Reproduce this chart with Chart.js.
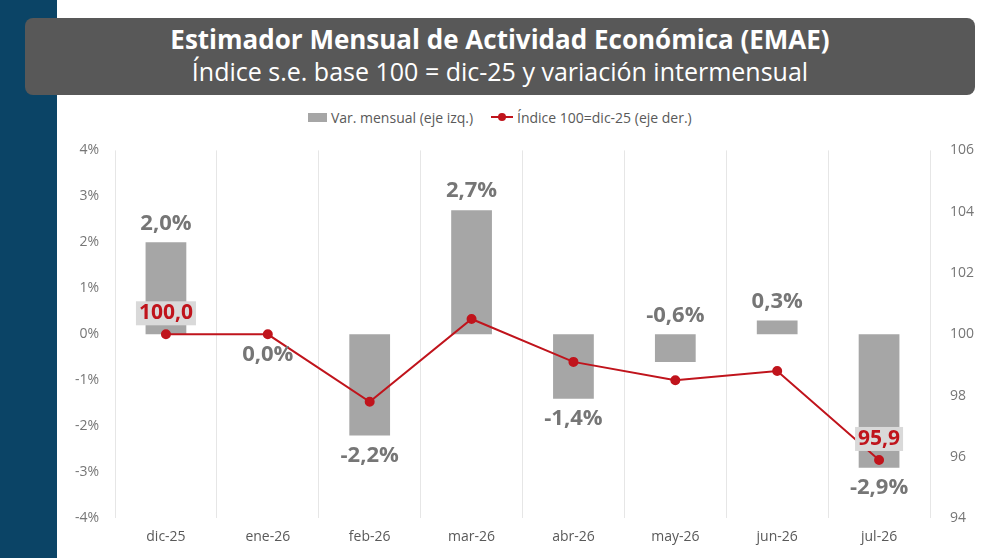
<!DOCTYPE html>
<html><head><meta charset="utf-8">
<script src="https://cdn.jsdelivr.net/npm/chart.js@4"></script>
<style>
body{margin:0;width:1000px;height:558px;overflow:hidden;background:#fff;font-family:"Open Sans",sans-serif;position:relative}
#band{position:absolute;left:0;top:0;width:57px;height:558px;background:#0b4466}
#title{position:absolute;left:25px;top:18px;width:950px;height:77px;background:#585858;border-radius:8px;color:#fff;text-align:center}
#title .t1{font-weight:bold;font-size:26px;margin-top:5px;line-height:32px}
#title .t2{font-size:25px;line-height:32px}
#legend{position:absolute;top:106px;left:0;width:1000px;text-align:center;font-size:14px;color:#595959}
#legend span{display:inline-block;vertical-align:middle}
#wrap{position:absolute;left:60px;top:130px;width:940px;height:428px}
</style></head><body>
<div id="band"></div>
<div id="title"><div class="t1">Estimador Mensual de Actividad Económica (EMAE)</div><div class="t2">Índice s.e. base 100 = dic-25 y variación intermensual</div></div>
<div id="legend"><span style="width:19px;height:9px;background:#a6a6a6"></span><span>&nbsp;Var. mensual (eje izq.)&nbsp;&nbsp;&nbsp;&nbsp;&nbsp;</span><span style="position:relative;width:22px;height:10px"><span style="position:absolute;left:0;top:4px;width:22px;height:2px;background:#c0141c"></span><span style="position:absolute;left:7px;top:1px;width:8px;height:8px;border-radius:50%;background:#c0141c"></span></span><span>&nbsp;Índice 100=dic-25 (eje der.)</span></div>
<div id="wrap"><canvas id="c"></canvas></div>
<script>
const categories = ['dic-25','ene-26','feb-26','mar-26','abr-26','may-26','jun-26','jul-26'];
const varMensual = [2.0, 0.0, -2.2, 2.7, -1.4, -0.6, 0.3, -2.9];
const indice = [100.0, 100.0, 97.8, 100.5, 99.1, 98.5, 98.8, 95.9];
const fmt = (v, d) => v.toFixed(d).replace('.', ',');

const labelPlugin = {
  id: 'labels',
  afterDatasetsDraw(chart) {
    const ctx = chart.ctx, x = chart.scales.x, y = chart.scales.y, y1 = chart.scales.y1;
    ctx.save();
    ctx.textAlign = 'center';
    ctx.textBaseline = 'middle';
    ctx.font = 'bold 22px "Open Sans"';
    ctx.fillStyle = '#767676';
    varMensual.forEach((v, i) => {
      const px = x.getPixelForValue(i);
      // small negative bars get their label above the zero line
      const above = v > 0 || (v < 0 && v > -1);
      const py = above ? y.getPixelForValue(Math.max(v, 0)) - 19 : y.getPixelForValue(v) + 20;
      ctx.fillText(fmt(v, 1) + '%', px, py);
    });
    [0, indice.length - 1].forEach(i => {
      const px = x.getPixelForValue(i), py = y1.getPixelForValue(indice[i]) - 21;
      const t = fmt(indice[i], 1);
      ctx.font = 'bold 21px "Open Sans"';
      const w = ctx.measureText(t).width + 6;
      ctx.fillStyle = '#d9d9d9';
      ctx.fillRect(px - w / 2, py - 12, w, 24);
      ctx.fillStyle = '#c0141c';
      ctx.fillText(t, px, py);
    });
    ctx.restore();
  }
};

new Chart(document.getElementById('c'), {
  data: {
    labels: categories,
    datasets: [
      { type: 'line', data: indice, yAxisID: 'y1', borderColor: '#c0141c', backgroundColor: '#c0141c', borderWidth: 2, pointRadius: 4, tension: 0, order: 0 },
      { type: 'bar', data: varMensual, yAxisID: 'y', backgroundColor: '#a6a6a6', categoryPercentage: 1, barPercentage: 0.4, order: 1 }
    ]
  },
  options: {
    responsive: true, maintainAspectRatio: false, animation: false,
    layout: { padding: { top: 13, left: 0, right: 20, bottom: 3 } },
    plugins: { legend: { display: false }, tooltip: { enabled: false } },
    scales: {
      x: { offset: true, grid: { offset: true, color: '#e6e6e6', drawTicks: false }, border: { display: false },
           ticks: { color: '#595959', font: { size: 14, family: 'Open Sans' }, padding: 10 } },
      y: { position: 'left', min: -4, max: 4, ticks: { stepSize: 1, color: '#767676', font: { size: 14, family: 'Open Sans' }, padding: 8, callback: v => v + '%' },
           grid: { display: false }, border: { display: false }, afterFit: s => { s.width = 55; } },
      y1: { position: 'right', min: 94, max: 106, ticks: { stepSize: 2, color: '#767676', font: { size: 14, family: 'Open Sans' }, padding: 12 },
            grid: { display: false }, border: { display: false }, afterFit: s => { s.width = 50; } }
    }
  },
  plugins: [labelPlugin]
});
</script>
</body></html>
